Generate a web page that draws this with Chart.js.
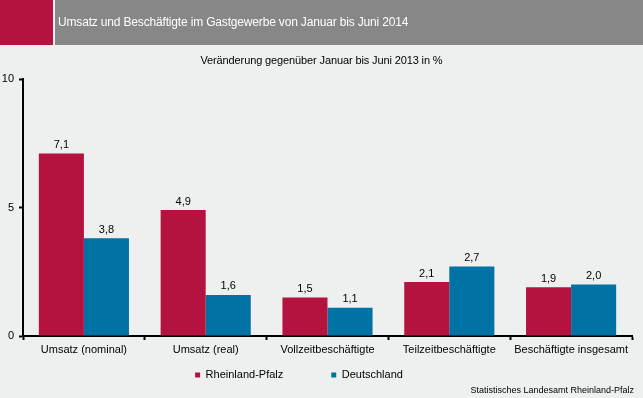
<!DOCTYPE html>
<html>
<head>
<meta charset="utf-8">
<script src="https://cdn.jsdelivr.net/npm/chart.js@4.4.1/dist/chart.umd.min.js"></script>
<style>
  html, body { margin: 0; padding: 0; background: #eef0ef; width: 643px; height: 398px; overflow: hidden; }
  body { position: relative; font-family: "Liberation Sans", Arial, sans-serif; }
  #wrap { position: absolute; left: 0; top: 0; width: 643px; height: 398px; }
  #hdrRed { position: absolute; left: 0; top: 0; width: 53px; height: 45px; background: #b5133f; }
  #hdrGray { position: absolute; left: 55px; top: 0; width: 588px; height: 45px; background: #878787; }
  #title { position: absolute; left: 58px; top: 14px; font-size: 12px; line-height: 16px; color: #ffffff; white-space: nowrap; letter-spacing: -0.17px; }
  #subtitle { position: absolute; left: 0; top: 53px; width: 643px; text-align: center; font-size: 11px; line-height: 14px; color: #000; white-space: nowrap; letter-spacing: -0.12px; }
  #source { position: absolute; right: 9px; top: 384px; font-size: 9px; line-height: 12px; color: #000; white-space: nowrap; }
</style>
</head>
<body>
<div id="wrap"><canvas id="c" width="643" height="398"></canvas></div>
<div id="hdrRed"></div>
<div id="hdrGray"></div>
<div id="title">Umsatz und Beschäftigte im Gastgewerbe von Januar bis Juni 2014</div>
<div id="subtitle">Veränderung gegenüber Januar bis Juni 2013 in %</div>
<div id="source">Statistisches Landesamt Rheinland-Pfalz</div>
<script>
const categories = ["Umsatz (nominal)", "Umsatz (real)", "Vollzeitbeschäftigte", "Teilzeitbeschäftigte", "Beschäftigte insgesamt"];
const rheinlandPfalz = [7.1, 4.9, 1.5, 2.1, 1.9];
const deutschland = [3.8, 1.6, 1.1, 2.7, 2.0];
const seriesNames = ["Rheinland-Pfalz", "Deutschland"];
const yTicks = [0, 5, 10];

const FONT = "'Liberation Sans', Arial, sans-serif";

const valueLabels = {
  id: 'valueLabels',
  afterDatasetsDraw(chart) {
    const ctx = chart.ctx;
    ctx.save();
    ctx.font = "11px " + FONT;
    ctx.fillStyle = "#000";
    ctx.textAlign = "center";
    ctx.textBaseline = "bottom";
    chart.data.datasets.forEach((ds, i) => {
      const meta = chart.getDatasetMeta(i);
      meta.data.forEach((el, j) => {
        const v = ds.data[j];
        ctx.fillText(v.toFixed(1).replace('.', ','), el.x, el.y - 3);
      });
    });
    ctx.restore();
  }
};

const legendTweak = {
  id: 'legendTweak',
  beforeLayout(chart) {
    const lg = chart.legend;
    if (lg && !lg._patched) {
      const orig = lg.fit.bind(lg);
      lg.fit = function () { orig(); this.height = 26; };
      lg._patched = true;
    }
  },
  afterLayout(chart) {
    const lg = chart.legend;
    if (!lg) return;
    const pad = lg.options.labels.padding;
    const itemH = 11;
    const targetCenter = 375;
    const newTop = targetCenter - pad - itemH / 2;
    lg.top = newTop;
    lg.bottom = newTop + pad * 2 + itemH;
    lg.height = lg.bottom - lg.top;
    lg.left -= 34;
    lg.width = lg.right - lg.left;
  }
};

new Chart(document.getElementById('c'), {
  type: 'bar',
  data: {
    labels: categories,
    datasets: [
      { label: seriesNames[0], data: rheinlandPfalz, backgroundColor: '#b5133f', borderWidth: 0, categoryPercentage: 0.74, barPercentage: 1.0 },
      { label: seriesNames[1], data: deutschland, backgroundColor: '#0072a4', borderWidth: 0, categoryPercentage: 0.74, barPercentage: 1.0 }
    ]
  },
  options: {
    responsive: false,
    animation: false,
    devicePixelRatio: 1,
    layout: { padding: { top: 79, left: 0, right: 11, bottom: 12 } },
    plugins: {
      title: { display: false },
      tooltip: { enabled: false },
      legend: {
        display: true,
        position: 'bottom',
        labels: {
          boxWidth: 5,
          boxHeight: 5,
          padding: 48,
          color: '#000',
          font: { family: FONT, size: 11 }
        }
      }
    },
    scales: {
      x: {
        grid: { display: true, drawOnChartArea: false, drawTicks: true, tickLength: 4, tickColor: '#000', tickWidth: 2, offset: true },
        border: { display: true, color: '#000', width: 2 },
        ticks: { color: '#000', font: { family: FONT, size: 11 }, padding: 3, maxRotation: 0, autoSkip: false },
        afterFit(s) { s.height = 24; }
      },
      y: {
        min: 0, max: 10,
        afterBuildTicks(s) { s.ticks = yTicks.map(v => ({ value: v })); },
        grid: { display: true, drawOnChartArea: false, drawTicks: true, tickLength: 4, tickColor: '#000', tickWidth: 2 },
        border: { display: true, color: '#000', width: 2 },
        ticks: { color: '#000', font: { family: FONT, size: 11 }, padding: 5 },
        afterFit(s) { s.width = 23; }
      }
    }
  },
  plugins: [valueLabels, legendTweak]
});
</script>
</body>
</html>
